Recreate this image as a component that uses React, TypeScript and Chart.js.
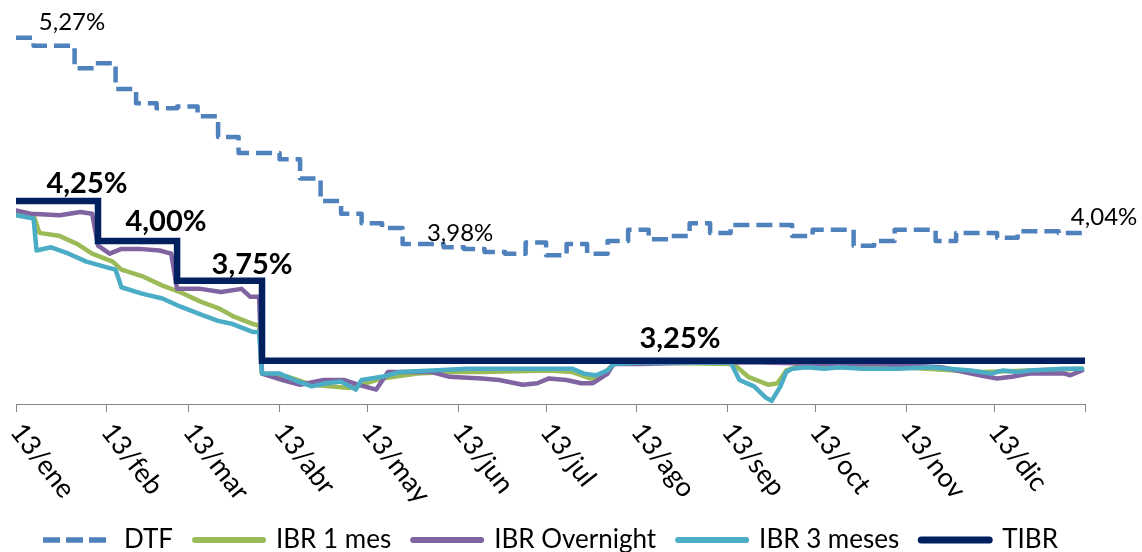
import React, { useEffect, useRef } from 'react';
import { Chart, registerables } from 'chart.js';

Chart.register(...registerables);

// ---- axis ticks (days counted from 13/ene) ----
const tickDays = [0, 31, 59, 90, 120, 151, 181, 212, 243, 273, 304, 334, 365];
const tickLabels = ['13/ene', '13/feb', '13/mar', '13/abr', '13/may', '13/jun', '13/jul', '13/ago', '13/sep', '13/oct', '13/nov', '13/dic', ''];

// ---- series ----
const seriesNames = ['DTF', 'IBR 1 mes', 'IBR Overnight', 'IBR 3 meses', 'TIBR'];

const dtfDays = [0, 6, 13, 20, 27, 34, 41, 48, 55, 62, 69, 76, 83, 90, 97, 104, 111, 118, 125, 132, 139, 146, 153, 160, 167, 174, 181, 188, 195, 202, 209, 216, 223, 230, 237, 244, 251, 258, 265, 272, 279, 286, 293, 300, 307, 314, 321, 328, 335, 342, 349, 356, 364];
const dtfValues = [5.27, 5.22, 5.22, 5.08, 5.11, 4.95, 4.86, 4.83, 4.84, 4.78, 4.65, 4.55, 4.55, 4.51, 4.39, 4.25, 4.17, 4.11, 4.08, 3.98, 3.98, 3.96, 3.95, 3.93, 3.92, 3.99, 3.91, 3.98, 3.92, 4.00, 4.07, 4.01, 4.03, 4.11, 4.05, 4.10, 4.10, 4.10, 4.03, 4.07, 4.07, 3.97, 4.00, 4.07, 4.07, 4.00, 4.05, 4.05, 4.02, 4.06, 4.06, 4.05, 4.04];

const ibr1Days = [0, 6, 8, 15, 21, 26, 33, 36, 43, 50, 56, 63, 69, 74, 81, 83, 84, 93, 101, 114, 125, 137, 148, 159, 182, 190, 196, 199, 204, 213, 245, 250, 257, 260, 263, 268, 281, 302, 330, 346, 364];
const ibr1Values = [4.17, 4.16, 4.05, 4.03, 3.98, 3.92, 3.87, 3.82, 3.78, 3.72, 3.68, 3.62, 3.58, 3.53, 3.48, 3.47, 3.17, 3.15, 3.10, 3.08, 3.14, 3.17, 3.18, 3.18, 3.19, 3.18, 3.14, 3.14, 3.23, 3.24, 3.23, 3.15, 3.10, 3.11, 3.19, 3.22, 3.21, 3.21, 3.18, 3.19, 3.20];

const ibrOnDays = [0, 5, 15, 22, 26, 28, 32, 36, 42, 49, 53, 55, 63, 70, 77, 80, 83, 84, 91, 97, 105, 112, 117, 123, 127, 134, 142, 148, 159, 165, 173, 178, 182, 188, 193, 197, 202, 204, 213, 234, 254, 278, 295, 316, 329, 335, 340, 346, 358, 360, 364];
const ibrOnValues = [4.19, 4.17, 4.16, 4.18, 4.17, 3.97, 3.92, 3.95, 3.95, 3.94, 3.92, 3.70, 3.70, 3.68, 3.70, 3.65, 3.65, 3.17, 3.13, 3.10, 3.13, 3.13, 3.10, 3.07, 3.18, 3.18, 3.18, 3.15, 3.14, 3.13, 3.10, 3.11, 3.14, 3.13, 3.11, 3.11, 3.17, 3.23, 3.23, 3.24, 3.24, 3.23, 3.23, 3.21, 3.16, 3.14, 3.15, 3.17, 3.17, 3.16, 3.19];

const ibr3Days = [0, 6, 7, 12, 18, 24, 32, 34, 36, 43, 50, 56, 63, 69, 74, 81, 83, 84, 90, 95, 101, 106, 111, 116, 118, 125, 131, 142, 154, 179, 190, 194, 198, 202, 204, 213, 244, 247, 252, 256, 258, 261, 263, 265, 270, 276, 281, 289, 301, 312, 326, 333, 337, 342, 346, 358, 364];
const ibr3Values = [4.16, 4.14, 3.94, 3.96, 3.92, 3.87, 3.83, 3.82, 3.71, 3.67, 3.64, 3.59, 3.54, 3.50, 3.48, 3.43, 3.43, 3.17, 3.17, 3.13, 3.09, 3.11, 3.12, 3.07, 3.13, 3.15, 3.18, 3.19, 3.20, 3.20, 3.20, 3.17, 3.16, 3.19, 3.23, 3.24, 3.24, 3.13, 3.09, 3.02, 3.00, 3.09, 3.18, 3.20, 3.21, 3.20, 3.21, 3.20, 3.20, 3.21, 3.19, 3.17, 3.19, 3.18, 3.19, 3.20, 3.20];

const tibrDays = [0, 28, 55, 84, 365];
const tibrValues = [4.25, 4.00, 3.75, 3.25, 3.25];

// ---- styles ----
const colors = ['#4F81BD', '#9BBB59', '#8064A2', '#4BACC6', '#002060'];
const lineWidths = [4.5, 4.5, 4.5, 4.5, 6.5];
const legendWidths = [5.5, 6, 6, 6, 7];
const drawOrder = [5, 4, 3, 2, 1];

// labels attached to data points: dataset, point index, pixel offset
const pointLabels = [
  { ds: 0, idx: 0, dx: 56, dy: -16, bold: false },
  { ds: 0, idx: 20, dx: 37, dy: -11, bold: false },
  { ds: 0, idx: 52, dx: 22, dy: -17, bold: false },
  { ds: 4, idx: 0, dx: 71, dy: -17, bold: true },
  { ds: 4, idx: 1, dx: 68, dy: -19, bold: true },
  { ds: 4, idx: 2, dx: 75, dy: -16, bold: true },
  { ds: 4, idx: 3, dx: 418, dy: -22, bold: true },
];

const FONT = 'Lato, "Open Sans", sans-serif';
const fmt = (v: number) => v.toFixed(2).replace('.', ',') + '%';
const toPoints = (days: number[], values: number[]) => days.map((d, i) => ({ x: d, y: values[i] }));

const annotatePlugin = {
  id: 'annotate',
  afterDatasetsDraw(chart: any) {
    const ctx = chart.ctx;
    ctx.save();
    ctx.fillStyle = '#000';
    ctx.textAlign = 'center';
    ctx.textBaseline = 'middle';
    pointLabels.forEach((l) => {
      const el = chart.getDatasetMeta(l.ds).data[l.idx];
      const raw = chart.data.datasets[l.ds].data[l.idx].y;
      ctx.font = `${l.bold ? 'bold 29px' : '24px'} ${FONT}`;
      ctx.fillText(fmt(raw), el.x + l.dx, el.y + l.dy);
    });
    const xs = chart.scales.x;
    ctx.font = `27px ${FONT}`;
    ctx.textAlign = 'left';
    ctx.textBaseline = 'middle';
    tickDays.forEach((d, i) => {
      const lab = tickLabels[i];
      if (!lab) return;
      const px = xs.getPixelForValue(d);
      ctx.save();
      ctx.translate(px, xs.top + 23);
      ctx.rotate((52 * Math.PI) / 180);
      ctx.fillText(lab, 0, 0);
      ctx.restore();
    });
    ctx.restore();
  },
};

export default function App() {
  const ref = useRef<HTMLCanvasElement | null>(null);
  useEffect(() => {
    document.body.style.margin = '0';
    const daysList = [dtfDays, ibr1Days, ibrOnDays, ibr3Days, tibrDays];
    const valsList = [dtfValues, ibr1Values, ibrOnValues, ibr3Values, tibrValues];
    const datasets = seriesNames.map((name, i) => ({
      label: name,
      data: toPoints(daysList[i], valsList[i]),
      borderColor: colors[i],
      backgroundColor: colors[i],
      borderWidth: lineWidths[i],
      borderDash: i === 0 ? [16, 7] : [],
      borderCapStyle: i === 0 ? 'butt' : 'round',
      borderJoinStyle: i === 4 ? 'miter' : 'round',
      stepped: i === 0 || i === 4 ? true : false,
      pointRadius: 0,
      tension: 0,
      fill: false,
      order: drawOrder[i],
    }));
    const chart = new Chart(ref.current as HTMLCanvasElement, {
      type: 'line',
      data: { datasets } as any,
      options: {
        animation: false,
        responsive: false,
        devicePixelRatio: 1,
        events: [],
        layout: { padding: { left: 16, right: 57, top: 1, bottom: -11 } },
        scales: {
          x: {
            type: 'linear',
            min: 0,
            max: 365,
            position: 'bottom',
            afterBuildTicks: (s: any) => {
              s.ticks = tickDays.map((v) => ({ value: v }));
            },
            afterFit: (s: any) => {
              s.height = 101;
            },
            ticks: { display: false },
            grid: { drawOnChartArea: false, drawTicks: true, tickLength: 8, color: '#868686', lineWidth: 1 },
            border: { display: true, color: '#868686', width: 1 },
          },
          y: { display: false, min: 2.98, max: 5.5 },
        },
        plugins: {
          tooltip: { enabled: false },
          legend: {
            position: 'bottom',
            labels: {
              font: { family: FONT, size: 26 },
              color: '#000',
              usePointStyle: true,
              pointStyle: 'line',
              pointStyleWidth: 68,
              padding: 22,
              generateLabels: (c: any) =>
                c.data.datasets.map((ds: any, i: number) => ({
                  text: ds.label,
                  fillStyle: colors[i],
                  strokeStyle: colors[i],
                  lineWidth: legendWidths[i],
                  lineDash: i === 0 ? [17, 6] : [],
                  lineCap: i === 0 ? 'butt' : 'round',
                  pointStyle: 'line',
                  hidden: false,
                  datasetIndex: i,
                  fontColor: '#000',
                })),
            },
          },
        },
      } as any,
      plugins: [annotatePlugin],
    });
    return () => chart.destroy();
  }, []);
  return (
    <div style={{ width: 1142, height: 552, background: '#fff' }}>
      <canvas ref={ref} width={1142} height={552} style={{ display: 'block' }} />
    </div>
  );
}
